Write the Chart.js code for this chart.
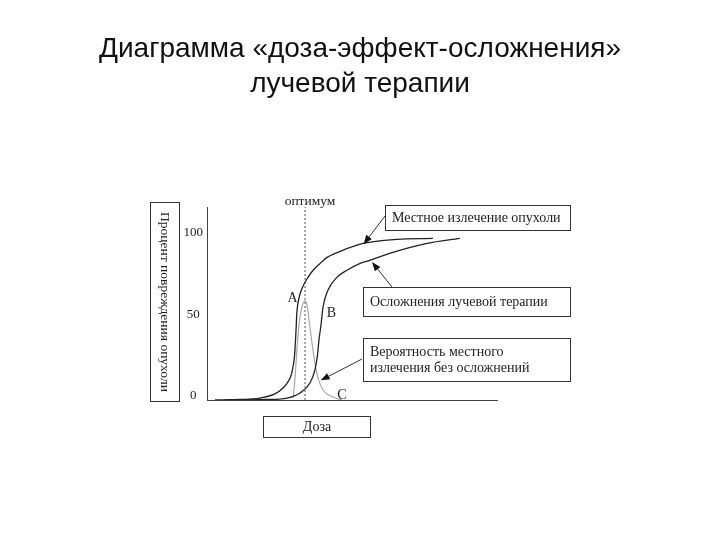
<!DOCTYPE html>
<html>
<head>
<meta charset="utf-8">
<script src="https://cdn.jsdelivr.net/npm/chart.js@4/dist/chart.umd.min.js"></script>
<style>
html,body{margin:0;padding:0;background:#fff;}
canvas{display:block;}
</style>
</head>
<body>
<canvas id="c" width="720" height="540"></canvas>
<script>
// ---- data (dose in arbitrary units 0..100, effect in %) ----
const titleLines = ["Диаграмма «доза-эффект-осложнения»", "лучевой терапии"];
const yTicks = [0, 50, 100];

const cureDose   = [2.8, 11.4, 18.3, 23.4, 26.2, 28.3, 29.3, 30.2, 30.7, 31.0, 31.7, 32.8, 34.8, 36.6, 39.0, 41.4, 45.9, 53.8, 65.5, 77.9];
const cureValue  = [0, 0.3, 1.2, 3.7, 7.3, 12.2, 17.1, 27.4, 42.7, 53.7, 62.2, 68.3, 75.0, 79.3, 83.5, 87.2, 90.9, 95.7, 98.2, 98.8];

const complDose  = [6.2, 20.7, 27.6, 32.1, 35.5, 37.2, 38.1, 38.6, 39.3, 40.0, 41.7, 44.8, 48.3, 52.8, 56.2, 64.1, 75.9, 87.2];
const complValue = [0, 0.3, 1.2, 4.3, 10.4, 18.3, 27.4, 36.6, 45.7, 56.7, 67.1, 75.0, 79.3, 83.5, 85.4, 90.2, 95.7, 98.8];

const freeDose   = [29.7, 30.3, 31.0, 31.7, 32.8, 33.8, 34.5, 35.2, 36.2, 37.2, 38.3, 40.0, 43.4, 46.6];
const freeValue  = [1.2, 12.2, 30.5, 45.7, 57.3, 60.4, 57.9, 48.8, 34.8, 22.6, 13.4, 6.1, 1.8, 0];

const optimumDose = 33.8;
const yAxisMax = 118;

const seriesLabels = ["Местное излечение опухоли", "Осложнения лучевой терапии", "Вероятность местного излечения без осложнений", "оптимум"];
const yAxisTitle = "Процент повреждения опухоли";
const xAxisTitle = "Доза";
const curveLetters = ["A", "B", "C"];

const toPts = (xs, ys) => xs.map((x, i) => ({x: x, y: ys[i]}));

// ---- annotation layout (pixels for boxes, data coords for arrow tips) ----
const SERIF = "'Liberation Serif', 'DejaVu Serif', serif";
const SANS = "'Liberation Sans', Arial, sans-serif";
const layoutCfg = {
  title: {x: 360, y: [49, 84], size: 28},
  boxes: [
    {x: 385, y: 205, w: 185, h: 25, lines: [seriesLabels[0]], tx: 392, ty: [218]},
    {x: 363, y: 287, w: 207, h: 29, lines: [seriesLabels[1]], tx: 370, ty: [302]},
    {x: 363, y: 338, w: 207, h: 43, lines: ["Вероятность местного", "излечения без осложнений"], tx: 370, ty: [352, 368]}
  ],
  arrows: [
    {fx: 385, fy: 216, tx: 54.0, ty: 95.3},
    {fx: 392, fy: 287, tx: 56.9, ty: 84.3},
    {fx: 362, fy: 359, tx: 39.2, ty: 12.0}
  ],
  letters: [
    {t: curveLetters[0], x: 292.5, y: 298},
    {t: curveLetters[1], x: 331.5, y: 313},
    {t: curveLetters[2], x: 342, y: 395}
  ]
};

const annot = {
  id: 'annot',
  afterDraw(chart) {
    const ctx = chart.ctx;
    const xs = chart.scales.x, ys = chart.scales.y;
    ctx.save();
    ctx.textBaseline = 'middle';

    // title
    ctx.fillStyle = '#111';
    ctx.textAlign = 'center';
    ctx.font = layoutCfg.title.size + "px " + SANS;
    titleLines.forEach((t, i) => ctx.fillText(t, layoutCfg.title.x, layoutCfg.title.y[i]));

    ctx.fillStyle = '#222';
    ctx.strokeStyle = '#333';
    ctx.lineWidth = 1;

    // y-axis title box (rotated clockwise text)
    ctx.strokeRect(150.5, 202.5, 29, 199);
    ctx.save();
    ctx.translate(165, 302);
    ctx.rotate(Math.PI / 2);
    ctx.font = "13.5px " + SERIF;
    ctx.textAlign = 'center';
    ctx.fillText(yAxisTitle, 0, 0);
    ctx.restore();

    // x-axis title box
    ctx.strokeRect(263.5, 416.5, 107, 21);
    ctx.font = "14px " + SERIF;
    ctx.textAlign = 'center';
    ctx.fillText(xAxisTitle, 317, 427);

    // optimum label
    ctx.font = "13.5px " + SERIF;
    ctx.fillText(seriesLabels[3], xs.getPixelForValue(optimumDose) + 5, 201);

    // curve letters
    ctx.font = "14px " + SERIF;
    layoutCfg.letters.forEach(l => ctx.fillText(l.t, l.x, l.y));

    // boxes
    ctx.textAlign = 'left';
    ctx.font = "14px " + SERIF;
    layoutCfg.boxes.forEach(b => {
      ctx.fillStyle = '#fff';
      ctx.fillRect(b.x, b.y, b.w, b.h);
      ctx.strokeStyle = '#333';
      ctx.strokeRect(b.x + 0.5, b.y + 0.5, b.w, b.h);
      ctx.fillStyle = '#222';
      b.lines.forEach((t, i) => ctx.fillText(t, b.tx, b.ty[i]));
    });

    // arrows
    layoutCfg.arrows.forEach(a => {
      const tx = xs.getPixelForValue(a.tx), ty = ys.getPixelForValue(a.ty);
      const ang = Math.atan2(ty - a.fy, tx - a.fx);
      const hl = 9, hw = 3.5;
      const bx = tx - hl * Math.cos(ang), by = ty - hl * Math.sin(ang);
      ctx.strokeStyle = '#333';
      ctx.lineWidth = 1;
      ctx.beginPath();
      ctx.moveTo(a.fx, a.fy);
      ctx.lineTo(bx, by);
      ctx.stroke();
      ctx.fillStyle = '#111';
      ctx.beginPath();
      ctx.moveTo(tx, ty);
      ctx.lineTo(bx + hw * Math.sin(ang), by - hw * Math.cos(ang));
      ctx.lineTo(bx - hw * Math.sin(ang), by + hw * Math.cos(ang));
      ctx.closePath();
      ctx.fill();
    });
    ctx.restore();
  }
};

new Chart(document.getElementById('c'), {
  type: 'line',
  data: {
    datasets: [
      {label: seriesLabels[0], data: toPts(cureDose, cureValue), borderColor: '#222', borderWidth: 1.3, pointRadius: 0, cubicInterpolationMode: 'monotone', fill: false},
      {label: seriesLabels[1], data: toPts(complDose, complValue), borderColor: '#222', borderWidth: 1.3, pointRadius: 0, cubicInterpolationMode: 'monotone', fill: false},
      {label: seriesLabels[2], data: toPts(freeDose, freeValue), borderColor: '#a8a8a8', borderWidth: 1.2, pointRadius: 0, cubicInterpolationMode: 'monotone', fill: false},
      {label: seriesLabels[3], data: [{x: optimumDose, y: 0}, {x: optimumDose, y: yAxisMax}], borderColor: '#555', borderWidth: 1, borderDash: [2, 2], pointRadius: 0, fill: false}
    ]
  },
  options: {
    responsive: false,
    animation: false,
    devicePixelRatio: 1,
    layout: {padding: {top: 207, left: 177, right: 223, bottom: 140}},
    plugins: {
      legend: {display: false},
      tooltip: {enabled: false},
      title: {display: false}
    },
    scales: {
      x: {
        type: 'linear', min: 0, max: 100,
        grid: {display: false, drawTicks: false},
        border: {display: true, color: '#444', width: 1},
        ticks: {display: false},
        afterFit: s => { s.height = 0; }
      },
      y: {
        type: 'linear', min: 0, max: yAxisMax,
        afterBuildTicks: s => { s.ticks = yTicks.map(v => ({value: v})); },
        afterFit: s => { s.width = 30; },
        grid: {display: false, drawTicks: false},
        border: {display: true, color: '#444', width: 1},
        ticks: {font: {family: SERIF, size: 13}, color: '#222', padding: 4, labelOffset: -4, crossAlign: 'center'}
      }
    }
  },
  plugins: [annot]
});
</script>
</body>
</html>
